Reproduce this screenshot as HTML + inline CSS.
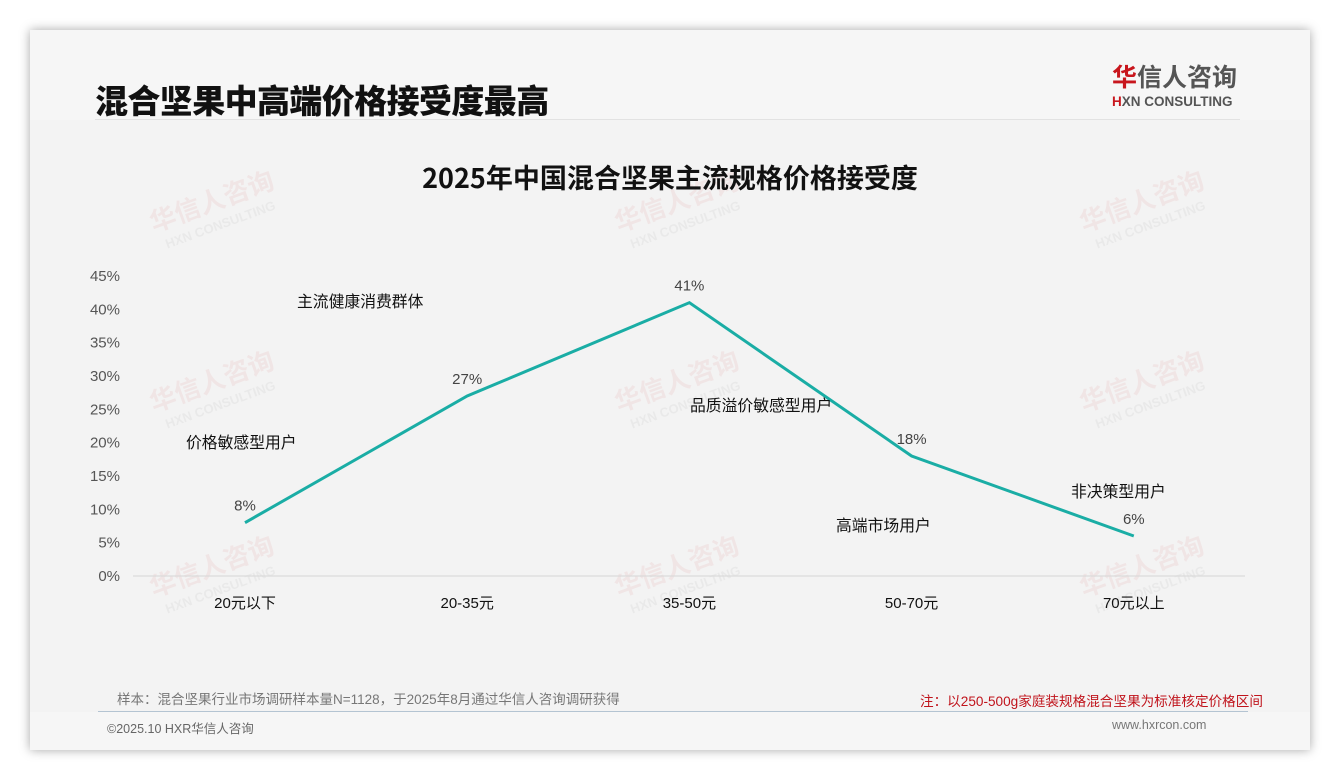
<!DOCTYPE html>
<html><head><meta charset="utf-8">
<style>
body{margin:0;width:1340px;height:780px;background:#fff;position:relative;overflow:hidden;font-family:"Liberation Sans","Noto Sans CJK SC",sans-serif;}
#card{position:absolute;left:30px;top:30px;width:1280px;height:720px;background:#f6f6f6;box-shadow:0 0 10px rgba(0,0,0,0.35);}
#panel{position:absolute;left:30px;top:120px;width:1280px;height:592px;background:#f3f3f3;}
.abs{position:absolute;white-space:nowrap;}
</style></head><body>
<div id="card"></div>
<div id="panel"></div>
<div class="abs" style="left:95px;top:75px;font-size:33px;font-weight:900;color:#111;letter-spacing:-0.6px;font-family:'Noto Sans CJK SC',sans-serif;">混合坚果中高端价格接受度最高</div>
<div class="abs" style="left:95px;top:119px;width:1145px;height:1px;background:#e2e2e2;"></div>
<div class="abs" style="left:1112px;top:62px;font-size:25px;font-weight:bold;color:#555;line-height:28px;font-family:'Noto Sans CJK SC',sans-serif;"><span style="color:#c8161d">华</span>信人咨询</div>
<div class="abs" style="left:1112px;top:94px;font-size:13.5px;font-weight:bold;color:#555;"><span style="color:#c8161d">H</span>XN CONSULTING</div>
<svg class="abs" style="left:0;top:0" width="1340" height="780">
<g id="wm"></g>
<text x="670" y="188" text-anchor="middle" font-size="27" font-weight="bold" fill="#111" font-family="Noto Sans CJK SC, sans-serif">2025年中国混合坚果主流规格价格接受度</text>
<g id="axes"></g>
<g id="series"></g>
</svg>
<div class="abs" style="left:117px;top:688px;font-size:13.5px;color:#777;">样本：混合坚果行业市场调研样本量N=1128，于2025年8月通过华信人咨询调研获得</div>
<div class="abs" style="left:920px;top:690px;font-size:13.6px;color:#c0141c;">注：以250-500g家庭装规格混合坚果为标准核定价格区间</div>
<div class="abs" style="left:98px;top:711px;width:1150px;height:1px;background:#b4c4d2;"></div>
<div class="abs" style="left:107px;top:718px;font-size:12.5px;color:#666;">©2025.10 HXR华信人咨询</div>
<div class="abs" style="left:1112px;top:718px;font-size:12.5px;color:#777;">www.hxrcon.com</div>
<script>
const categories=["20元以下","20-35元","35-50元","50-70元","70元以上"];
const values=[8,27,41,18,6];
const yTicks=[0,5,10,15,20,25,30,35,40,45];
const annotations=[["主流健康消费群体",297,307],["价格敏感型用户",186,448],["品质溢价敏感型用户",690,411],["高端市场用户",836,531],["非决策型用户",1071,497]];
const NS="http://www.w3.org/2000/svg";
const X=i=>245+i*222.2;
const Y=v=>576-v*(300/45);
function mk(tag,at,parent,txt){const e=document.createElementNS(NS,tag);for(const k in at)e.setAttribute(k,at[k]);if(txt!==undefined)e.textContent=txt;parent.appendChild(e);return e;}
const wm=document.getElementById('wm');
[[215,210],[680,210],[1145,210],[215,390],[680,390],[1145,390],[215,575],[680,575],[1145,575]].forEach(p=>{
 const g=mk('g',{transform:`translate(${p[0]},${p[1]}) rotate(-20)`,opacity:0.06},wm);
 
 
 mk('text',{x:0,y:0,'text-anchor':'middle','font-size':26,'font-weight':'bold',fill:'#c8161d','font-family':'Noto Sans CJK SC, sans-serif'},g,'华信人咨询');
 mk('text',{x:0,y:20,'text-anchor':'middle','font-size':13,'font-weight':'bold',fill:'#555'},g,'HXN CONSULTING');
});
const ax=document.getElementById('axes');
const base=mk('line',{x1:133,x2:1245,y1:Y(0),y2:Y(0),stroke:'#d6d6d6','stroke-width':1},ax);


yTicks.forEach(t=>{const e=mk('text',{x:120,y:Y(t)+5,'text-anchor':'end','font-size':15,fill:'#555'},ax,t+'%');
 
 });
categories.forEach((c,i)=>{const e=mk('text',{x:X(i),y:608,'text-anchor':'middle','font-size':15,fill:'#111','font-family':'Liberation Sans, Noto Sans CJK SC, sans-serif'},ax,c);
 
 });
const s=document.getElementById('series');
const line=mk('polyline',{points:values.map((v,i)=>X(i)+','+Y(v)).join(' '),fill:'none',stroke:'#1aada5','stroke-width':3},s);


values.forEach((v,i)=>{const e=mk('text',{x:X(i),y:Y(v)-12,'text-anchor':'middle','font-size':15,fill:'#444'},s,v+'%');
 
 });
annotations.forEach(a=>{const e=mk('text',{x:a[1],y:a[2],'font-size':15.8,fill:'#111','font-family':'Noto Sans CJK SC, sans-serif'},s,a[0]);
 
 });
</script>
</body></html>
